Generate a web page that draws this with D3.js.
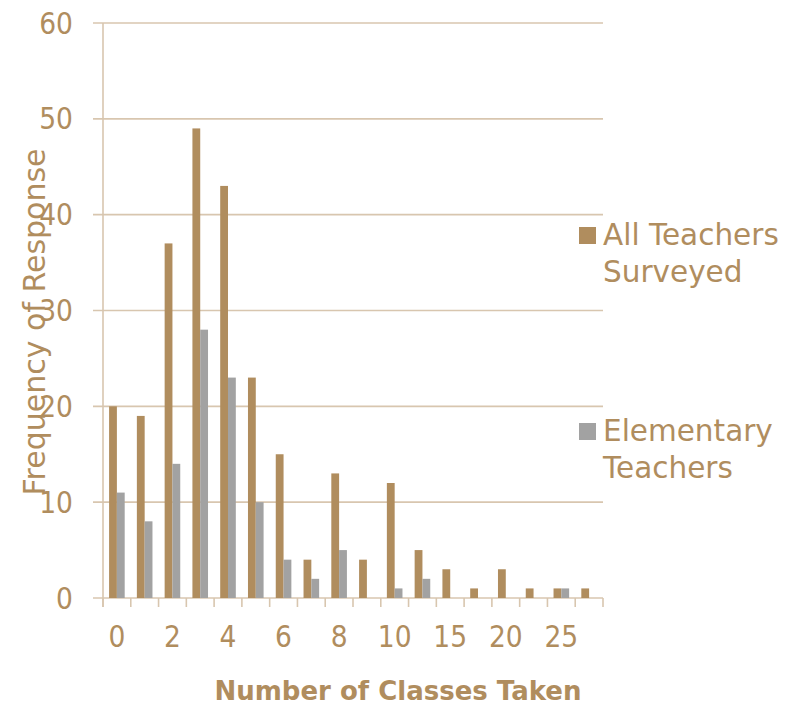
<!DOCTYPE html>
<html>
<head>
<meta charset="utf-8">
<script src="https://cdn.jsdelivr.net/npm/d3@7"></script>
<style>
  html, body { margin: 0; padding: 0; background: #fff; }
  svg text { font-family: "DejaVu Sans", sans-serif; fill: #B08D5E; }
  svg text.num { font-family: "DejaVu Sans Condensed", "DejaVu Sans", sans-serif; font-stretch: condensed; }
</style>
</head>
<body>
<svg id="chart" width="794" height="706"></svg>
<script>
// Number of classes taken (each category is one bar group)
const categories = ["0","1","2","3","4","5","6","7","8","9","10","12","15","17","20","22","25","30"];
// Every other category carries a visible label
const tickLabels = ["0","2","4","6","8","10","15","20","25"];
const allTeachers = [20,19,37,49,43,23,15,4,13,4,12,5,3,1,3,1,1,1];
const elementaryTeachers = [11,8,14,28,23,10,4,2,5,0,1,2,0,0,0,0,1,0];
const seriesNames = ["All Teachers Surveyed", "Elementary Teachers"];
const yTicks = [0,10,20,30,40,50,60];

const gold = "#B08D5E", gray = "#A2A2A2", gridColor = "#D8C6AF";
const margin = { left: 103, right: 191, top: 23, bottom: 108 };
const W = 794, H = 706;
const svg = d3.select("#chart");

const x = d3.scaleBand().domain(categories).range([margin.left, W - margin.right]).paddingInner(0).paddingOuter(0);
const y = d3.scaleLinear().domain([0, 60]).range([H - margin.bottom, margin.top]);
const inner = d3.scaleBand().domain(seriesNames).range([0, x.bandwidth()]).paddingInner(0).paddingOuter(0.78);

// horizontal gridlines, extended left to form the y tick marks
svg.append("g").selectAll("line").data(yTicks).join("line")
  .attr("x1", margin.left - 10).attr("x2", W - margin.right)
  .attr("y1", d => y(d)).attr("y2", d => y(d))
  .attr("stroke", gridColor).attr("stroke-width", 1.6);

// y axis line
svg.append("line")
  .attr("x1", margin.left).attr("x2", margin.left)
  .attr("y1", y(60)).attr("y2", y(0) + 9)
  .attr("stroke", gridColor).attr("stroke-width", 1.6);

// x axis tick marks at category boundaries
const bounds = categories.map(c => x(c)).concat([x(categories[categories.length - 1]) + x.bandwidth()]);
svg.append("g").selectAll("line").data(bounds).join("line")
  .attr("x1", d => d).attr("x2", d => d)
  .attr("y1", y(0)).attr("y2", y(0) + 9)
  .attr("stroke", gridColor).attr("stroke-width", 1.6);

// bars
const rows = categories.map((c, i) => ({ c, vals: [allTeachers[i], elementaryTeachers[i]] }));
const colors = [gold, gray];
const groups = svg.append("g").selectAll("g").data(rows).join("g")
  .attr("transform", d => `translate(${x(d.c)},0)`);
groups.selectAll("rect").data(d => d.vals.map((v, k) => ({ v, k }))).join("rect")
  .attr("x", d => inner(seriesNames[d.k]))
  .attr("width", inner.bandwidth())
  .attr("y", d => y(d.v))
  .attr("height", d => y(0) - y(d.v))
  .attr("fill", d => colors[d.k]);

// y tick labels
svg.append("g").selectAll("text").data(yTicks).join("text")
  .attr("class", "num")
  .attr("x", 73).attr("y", d => y(d)).attr("dy", "0.36em")
  .attr("text-anchor", "end").attr("font-size", 29.5)
  .text(d => d);

// x tick labels
svg.append("g").selectAll("text").data(tickLabels).join("text")
  .attr("class", "num")
  .attr("x", d => x(d) + x.bandwidth() / 2).attr("y", 647)
  .attr("text-anchor", "middle").attr("font-size", 29.5)
  .text(d => d);

// axis titles
svg.append("text")
  .attr("x", 398).attr("y", 700).attr("text-anchor", "middle")
  .attr("font-size", 26).attr("font-weight", "bold")
  .text("Number of Classes Taken");
svg.append("text")
  .attr("transform", "translate(45,322) rotate(-90)")
  .attr("text-anchor", "middle").attr("font-size", 30)
  .text("Frequency of Response");

// legend
const legend = [
  { name: seriesNames[0], lines: ["All Teachers", "Surveyed"], color: gold, top: 227 },
  { name: seriesNames[1], lines: ["Elementary", "Teachers"], color: gray, top: 423 }
];
const lg = svg.append("g").selectAll("g").data(legend).join("g");
lg.append("rect").attr("x", 579).attr("y", d => d.top).attr("width", 17).attr("height", 17).attr("fill", d => d.color);
lg.each(function(d) {
  d3.select(this).selectAll("text").data(d.lines).join("text")
    .attr("x", 603).attr("y", (t, i) => d.top + 18 + i * 37)
    .attr("font-size", 29.5).text(t => t);
});
</script>
</body>
</html>
